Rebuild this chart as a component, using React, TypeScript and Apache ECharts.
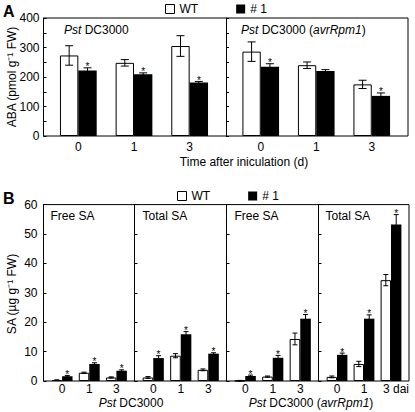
import React, { useEffect, useRef } from 'react';
import * as echarts from 'echarts';

// ---------- data ----------
const categories = ['0', '1', '3'];

// Panel A: ABA (pmol g-1 FW)
const abaPstWT = [273, 248, 305];
const abaPstWTErr = [33, 11, 35];
const abaPstM = [222, 209, 181];
const abaPstMErr = [9, 5, 4];
const abaPstStar = [true, true, true];

const abaAvrWT = [286, 240, 175];
const abaAvrWTErr = [33, 11, 14];
const abaAvrM = [235, 220, 136];
const abaAvrMErr = [10, 5, 10];
const abaAvrStar = [true, false, true];

// Panel B: SA (ug g-1 FW)
const freePstWT = [0.3, 2.8, 1.2];
const freePstWTErr = [0.1, 0.2, 0.2];
const freePstM = [1.6, 5.8, 3.5];
const freePstMErr = [0.3, 0.4, 0.3];

const totalPstWT = [1.2, 8.6, 3.8];
const totalPstWTErr = [0.3, 0.7, 0.3];
const totalPstM = [7.8, 15.9, 9.3];
const totalPstMErr = [0.8, 0.9, 0.3];

const freeAvrWT = [0.1, 1.5, 14.3];
const freeAvrWTErr = [0.1, 0.2, 2.0];
const freeAvrM = [1.7, 7.9, 21.2];
const freeAvrMErr = [0.3, 0.8, 1.4];

const totalAvrWT = [1.4, 5.8, 34.3];
const totalAvrWTErr = [0.3, 0.9, 1.9];
const totalAvrM = [8.9, 21.2, 53.2];
const totalAvrMErr = [0.6, 1.3, 3.4];

const sigAll = [true, true, true];
const noSig = [false, false, false];

const abaTicks = { min: 0, max: 400, interval: 50, labelEvery: 100 };
const saTicks = { min: 0, max: 60, interval: 10, labelEvery: 10 };

// ---------- layout ----------
const FONT = 'Liberation Sans, Arial, sans-serif';
const A_TOP = 18;
const A_BOTTOM = 136;
const A_PANELS = [[43.5, 226], [226, 408]];
const A_INSET = [7, 8.5];
const B_TOP = 204.6;
const B_BOTTOM = 381;
const B_PANELS = [[43.5, 134.5], [134.5, 226.5], [226.5, 318.5], [318.5, 409]];
const B_INSET = [5, 4.5];

function errorSeries(idx: number, values: number[], errs: number[], stars: boolean[], side: number, gap: number, cap: number) {
  return {
    type: 'custom',
    xAxisIndex: idx,
    yAxisIndex: idx,
    silent: true,
    z: 10,
    itemStyle: { color: '#000' },
    data: values.map((v, i) => [i, v, errs[i], stars[i] ? 1 : 0]),
    renderItem: (params: any, api: any) => {
      const i = api.value(0);
      const v = api.value(1);
      const e = api.value(2);
      const s = api.value(3);
      const band = api.size([1, 0])[0];
      const barW = (band * (1 - gap)) / 2;
      const base = api.coord([i, v]);
      const x = base[0] + (side * barW) / 2;
      const top = api.coord([i, v + e])[1];
      const bot = api.coord([i, Math.max(0, v - e)])[1];
      const st = { stroke: '#000', lineWidth: 1 };
      const children: any[] = [
        { type: 'line', shape: { x1: x, y1: top, x2: x, y2: bot }, style: st },
        { type: 'line', shape: { x1: x - cap, y1: top, x2: x + cap, y2: top }, style: st },
        { type: 'line', shape: { x1: x - cap, y1: bot, x2: x + cap, y2: bot }, style: st },
      ];
      if (s) {
        children.push({
          type: 'text',
          x,
          y: top - 1,
          style: {
            text: '*', align: 'center', verticalAlign: 'middle', fontSize: 10,
            fill: '#000', textFill: '#000', fontFamily: FONT,
          },
        });
      }
      return { type: 'group', children };
    },
  };
}

function barPair(idx: number, wt: number[], m: number[], gap: number) {
  return [
    {
      type: 'bar', name: 'WT', xAxisIndex: idx, yAxisIndex: idx, data: wt,
      barGap: '0%', barCategoryGap: Math.round(gap * 100) + '%',
      itemStyle: { color: '#fff', borderColor: '#000', borderWidth: 1 },
    },
    {
      type: 'bar', name: '# 1', xAxisIndex: idx, yAxisIndex: idx, data: m,
      barGap: '0%', barCategoryGap: Math.round(gap * 100) + '%',
      itemStyle: { color: '#000' },
    },
  ];
}

export default function App() {
  const ref = useRef<HTMLDivElement>(null);
  useEffect(() => {
    if (!ref.current) return;
    const chart = echarts.init(ref.current, undefined, { renderer: 'svg' });

    const gapA = 0.34;
    const gapB = 0.23;

    const grids: any[] = [];
    const xAxes: any[] = [];
    const yAxes: any[] = [];

    A_PANELS.forEach(([l, r], k) => {
      grids.push({ left: l + A_INSET[0], width: r - l - A_INSET[0] - A_INSET[1], top: A_TOP, height: A_BOTTOM - A_TOP });
      xAxes.push({
        type: 'category', gridIndex: k, data: categories,
        axisLine: { show: false }, axisTick: { show: false },
        axisLabel: { interval: 0, margin: 5, fontSize: 12, color: '#000', fontFamily: FONT },
      });
      yAxes.push({
        type: 'value', gridIndex: k, min: abaTicks.min, max: abaTicks.max, interval: abaTicks.interval,
        offset: A_INSET[0],
        axisLine: { show: true, lineStyle: { color: '#000', width: 1 } },
        axisTick: { show: true, inside: true, length: 3, lineStyle: { color: '#000' } },
        splitLine: { show: false },
        axisLabel: {
          show: k === 0, margin: 4, fontSize: 12, color: '#000', fontFamily: FONT,
          formatter: (v: number) => (v % abaTicks.labelEvery === 0 ? String(v) : ''),
        },
      });
    });

    B_PANELS.forEach(([l, r], k) => {
      const gi = k + 2;
      grids.push({ left: l + B_INSET[0], width: r - l - B_INSET[0] - B_INSET[1], top: B_TOP, height: B_BOTTOM - B_TOP });
      xAxes.push({
        type: 'category', gridIndex: gi, data: categories,
        axisLine: { show: false }, axisTick: { show: false },
        axisLabel: {
          interval: 0, hideOverlap: false,
          margin: 2, fontSize: 12, color: '#000', fontFamily: FONT,
          formatter: (v: string) => (k === 3 && v === '3' ? '{p|3 dai}' : v),
          rich: { p: { fontSize: 12, color: '#000', fontFamily: FONT, padding: [0, 0, 0, 10] } },
        },
      });
      yAxes.push({
        type: 'value', gridIndex: gi, min: saTicks.min, max: saTicks.max, interval: saTicks.interval,
        offset: B_INSET[0],
        axisLine: { show: true, lineStyle: { color: '#000', width: 1 } },
        axisTick: { show: true, inside: true, length: 3, lineStyle: { color: '#000' } },
        splitLine: { show: false },
        axisLabel: { show: k === 0, margin: 6, fontSize: 12, color: '#000', fontFamily: FONT },
      });
    });

    const series: any[] = [
      ...barPair(0, abaPstWT, abaPstM, gapA),
      errorSeries(0, abaPstWT, abaPstWTErr, noSig, -1, gapA, 4),
      errorSeries(0, abaPstM, abaPstMErr, abaPstStar, 1, gapA, 4),
      ...barPair(1, abaAvrWT, abaAvrM, gapA),
      errorSeries(1, abaAvrWT, abaAvrWTErr, noSig, -1, gapA, 4),
      errorSeries(1, abaAvrM, abaAvrMErr, abaAvrStar, 1, gapA, 4),

      ...barPair(2, freePstWT, freePstM, gapB),
      errorSeries(2, freePstWT, freePstWTErr, noSig, -1, gapB, 2.5),
      errorSeries(2, freePstM, freePstMErr, sigAll, 1, gapB, 2.5),
      ...barPair(3, totalPstWT, totalPstM, gapB),
      errorSeries(3, totalPstWT, totalPstWTErr, noSig, -1, gapB, 2.5),
      errorSeries(3, totalPstM, totalPstMErr, sigAll, 1, gapB, 2.5),
      ...barPair(4, freeAvrWT, freeAvrM, gapB),
      errorSeries(4, freeAvrWT, freeAvrWTErr, noSig, -1, gapB, 2.5),
      errorSeries(4, freeAvrM, freeAvrMErr, sigAll, 1, gapB, 2.5),
      ...barPair(5, totalAvrWT, totalAvrM, gapB),
      errorSeries(5, totalAvrWT, totalAvrWTErr, noSig, -1, gapB, 2.5),
      errorSeries(5, totalAvrM, totalAvrMErr, sigAll, 1, gapB, 2.5),
    ];

    const italicRich = {
      i: { fontStyle: 'italic', fontSize: 12, fontFamily: FONT, fill: '#000' },
    };
    const txt = (text: string, x: number, y: number, extra: any = {}) => ({
      type: 'text', x, y, silent: true,
      style: { text, fontSize: 12, fontFamily: FONT, fill: '#000', ...extra },
    });

    const frame = (x1: number, x2: number, y1: number, y2: number) => ({
      type: 'rect', silent: true,
      shape: { x: x1, y: y1, width: x2 - x1, height: y2 - y1 },
      style: { fill: 'none', stroke: '#000', lineWidth: 1 },
    });

    const graphic: any[] = [
      frame(A_PANELS[0][0], A_PANELS[1][1], A_TOP, A_BOTTOM),
      frame(B_PANELS[0][0], B_PANELS[3][1], B_TOP, B_BOTTOM),
      txt('A', 3, 3, { fontSize: 16, fontWeight: 'bold' }),
      txt('B', 3, 190, { fontSize: 16, fontWeight: 'bold' }),
      { ...txt('ABA (pmol g\u207B\u00B9 FW)', 12, 77, { align: 'center', verticalAlign: 'middle' }), rotation: Math.PI / 2 },
      { ...txt('SA (\u00B5g g\u207B\u00B9 FW)', 12, 294, { align: 'center', verticalAlign: 'middle' }), rotation: Math.PI / 2 },
      txt('{i|Pst} DC3000', 64, 30, { verticalAlign: 'middle', rich: italicRich }),
      txt('{i|Pst} DC3000 ({i|avrRpm1})', 241, 30, { verticalAlign: 'middle', rich: italicRich }),
      txt('Time after iniculation (d)', 244, 162, { align: 'center', verticalAlign: 'middle' }),
      txt('Free SA', B_PANELS[0][0] + 7, 216, { verticalAlign: 'middle' }),
      txt('Total SA', B_PANELS[1][0] + 8, 216, { verticalAlign: 'middle' }),
      txt('Free SA', B_PANELS[2][0] + 8, 216, { verticalAlign: 'middle' }),
      txt('Total SA', B_PANELS[3][0] + 7, 216, { verticalAlign: 'middle' }),
      txt('{i|Pst} DC3000', 131, 403, { align: 'center', verticalAlign: 'middle', rich: italicRich }),
      txt('{i|Pst} DC3000 ({i|avrRpm1})', 311, 403, { align: 'center', verticalAlign: 'middle', rich: italicRich }),
    ];

    const legendBase = {
      data: ['WT', '# 1'], icon: 'rect', itemWidth: 9, itemHeight: 9, itemGap: 38,
      selectedMode: false, orient: 'horizontal', padding: 0,
      itemStyle: { borderWidth: 1 },
      textStyle: { fontSize: 12, color: '#000', fontFamily: FONT },
    };

    chart.setOption({
      animation: false,
      backgroundColor: '#fff',
      textStyle: { fontFamily: FONT },
      grid: grids,
      xAxis: xAxes,
      yAxis: yAxes,
      series,
      graphic,
      legend: [
        { ...legendBase, left: 165, top: 3 },
        { ...legendBase, left: 177, top: 190 },
      ],
    });
    return () => chart.dispose();
  }, []);

  return <div ref={ref} style={{ width: 415, height: 412, position: 'absolute', left: 0, top: 0 }} />;
}
